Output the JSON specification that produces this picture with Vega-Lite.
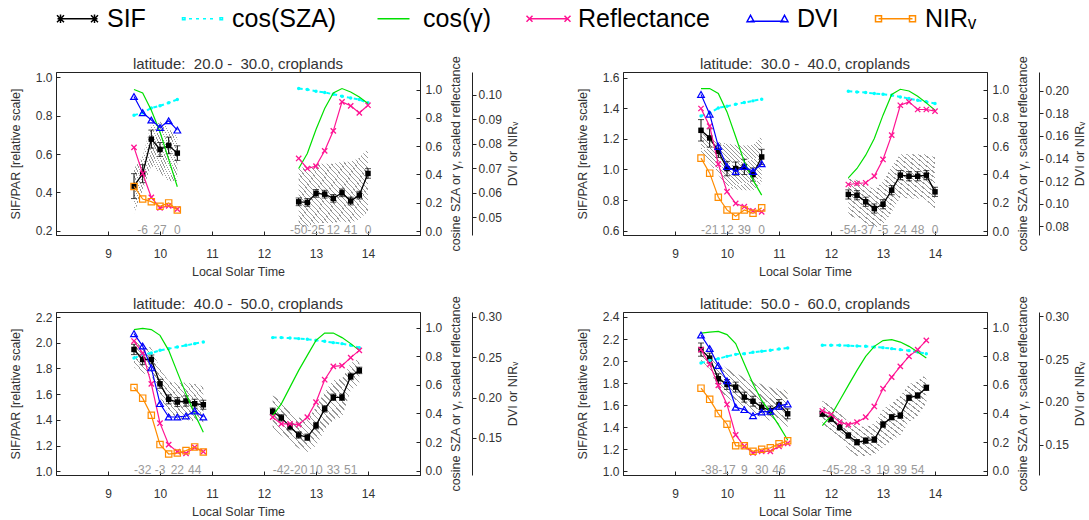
{
"$schema": "https://vega.github.io/schema/vega-lite/v6.json",
"padding": {"left": 8, "top": 6, "right": 0, "bottom": 0},
"background": "white",
"datasets": {"d": [
{"p":1,"i":"G","t":9.5,"s":0.433,"el":0.368,"eh":0.498,"lo":0.29,"hi":0.525,"r":0.591,"c":0.819,"g":1.0,"v":0.0993,"n":0.0626},
{"p":1,"i":"G","t":9.667,"s":0.498,"el":0.451,"eh":0.545,"lo":0.41,"hi":0.586,"r":0.407,"c":0.835,"g":0.976,"v":0.0927,"n":0.0575,"lab":"-6"},
{"p":1,"i":"G","t":9.833,"s":0.678,"el":0.631,"eh":0.725,"lo":0.54,"hi":0.76,"r":0.238,"c":0.87,"g":0.854,"v":0.0897,"n":0.0564},
{"p":1,"i":"G","t":10,"s":0.624,"el":0.588,"eh":0.66,"lo":0.5,"hi":0.77,"r":0.164,"c":0.885,"g":0.7,"v":0.0867,"n":0.0545,"lab":"27"},
{"p":1,"i":"G","t":10.167,"s":0.645,"el":0.602,"eh":0.688,"lo":0.46,"hi":0.734,"r":0.178,"c":0.906,"g":0.506,"v":0.0894,"n":0.0559},
{"p":1,"i":"G","t":10.333,"s":0.605,"el":0.567,"eh":0.643,"lo":0.456,"hi":0.69,"r":0.155,"c":0.93,"g":0.313,"v":0.0856,"n":0.053,"lab":"0"},
{"p":1,"i":"T","t":12.667,"s":0.351,"el":0.331,"eh":0.371,"lo":0.22,"hi":0.53,"r":0.513,"c":1.007,"g":0.442,"lab":"-50"},
{"p":1,"i":"T","t":12.833,"s":0.348,"el":0.328,"eh":0.368,"lo":0.22,"hi":0.53,"r":0.442,"c":1.0,"g":0.548},
{"p":1,"i":"T","t":13,"s":0.395,"el":0.375,"eh":0.415,"lo":0.24,"hi":0.55,"r":0.459,"c":0.988,"g":0.718,"lab":"-25"},
{"p":1,"i":"T","t":13.167,"s":0.391,"el":0.371,"eh":0.411,"lo":0.24,"hi":0.55,"r":0.567,"c":0.979,"g":0.866},
{"p":1,"i":"T","t":13.333,"s":0.369,"el":0.349,"eh":0.389,"lo":0.24,"hi":0.55,"r":0.708,"c":0.967,"g":0.976,"lab":"12"},
{"p":1,"i":"T","t":13.5,"s":0.398,"el":0.378,"eh":0.418,"lo":0.25,"hi":0.56,"r":0.913,"c":0.953,"g":1.007},
{"p":1,"i":"T","t":13.667,"s":0.355,"el":0.335,"eh":0.375,"lo":0.24,"hi":0.56,"r":0.885,"c":0.941,"g":0.983,"lab":"41"},
{"p":1,"i":"T","t":13.833,"s":0.386,"el":0.366,"eh":0.406,"lo":0.26,"hi":0.58,"r":0.835,"c":0.929,"g":0.948},
{"p":1,"i":"T","t":14,"s":0.499,"el":0.474,"eh":0.524,"lo":0.3,"hi":0.63,"r":0.889,"c":0.906,"g":0.901,"lab":"0"},
{"p":2,"i":"G","t":9.5,"s":1.256,"el":1.186,"eh":1.326,"lo":1.1,"hi":1.24,"r":0.866,"c":0.813,"g":1.007,"v":0.1968,"n":0.1404},
{"p":2,"i":"G","t":9.667,"s":1.206,"el":1.146,"eh":1.266,"lo":1.04,"hi":1.21,"r":0.741,"c":0.835,"g":1.007,"v":0.1793,"n":0.1271,"lab":"-21"},
{"p":2,"i":"G","t":9.833,"s":1.119,"el":1.079,"eh":1.159,"lo":0.965,"hi":1.18,"r":0.473,"c":0.87,"g":0.972,"v":0.1508,"n":0.1058},
{"p":2,"i":"G","t":10,"s":1.006,"el":0.959,"eh":1.053,"lo":0.88,"hi":1.17,"r":0.278,"c":0.882,"g":0.842,"v":0.133,"n":0.0946,"lab":"12"},
{"p":2,"i":"G","t":10.167,"s":1.006,"el":0.963,"eh":1.049,"lo":0.87,"hi":1.16,"r":0.195,"c":0.896,"g":0.666,"v":0.1286,"n":0.0889},
{"p":2,"i":"G","t":10.333,"s":1.017,"el":0.967,"eh":1.067,"lo":0.865,"hi":1.157,"r":0.172,"c":0.908,"g":0.489,"v":0.133,"n":0.0946,"lab":"39"},
{"p":2,"i":"G","t":10.5,"s":0.967,"el":0.924,"eh":1.01,"lo":0.865,"hi":1.16,"r":0.143,"c":0.92,"g":0.36,"v":0.1286,"n":0.0916},
{"p":2,"i":"G","t":10.667,"s":1.082,"el":1.032,"eh":1.132,"lo":0.91,"hi":1.22,"r":0.136,"c":0.932,"g":0.254,"v":0.1354,"n":0.0964,"lab":"0"},
{"p":2,"i":"T","t":12.333,"s":0.837,"el":0.807,"eh":0.867,"lo":0.7,"hi":0.95,"r":0.329,"c":0.988,"g":0.376,"lab":"-54"},
{"p":2,"i":"T","t":12.5,"s":0.832,"el":0.802,"eh":0.862,"lo":0.68,"hi":0.93,"r":0.336,"c":0.983,"g":0.442},
{"p":2,"i":"T","t":12.667,"s":0.789,"el":0.759,"eh":0.819,"lo":0.65,"hi":0.9,"r":0.341,"c":0.979,"g":0.536,"lab":"-37"},
{"p":2,"i":"T","t":12.833,"s":0.745,"el":0.715,"eh":0.775,"lo":0.62,"hi":0.87,"r":0.388,"c":0.972,"g":0.654},
{"p":2,"i":"T","t":13,"s":0.773,"el":0.743,"eh":0.803,"lo":0.64,"hi":0.92,"r":0.506,"c":0.967,"g":0.819,"lab":"-5"},
{"p":2,"i":"T","t":13.167,"s":0.865,"el":0.835,"eh":0.895,"lo":0.72,"hi":1.02,"r":0.678,"c":0.96,"g":0.965},
{"p":2,"i":"T","t":13.333,"s":0.963,"el":0.933,"eh":0.993,"lo":0.82,"hi":1.1,"r":0.889,"c":0.948,"g":1.002,"lab":"24"},
{"p":2,"i":"T","t":13.5,"s":0.956,"el":0.926,"eh":0.986,"lo":0.81,"hi":1.1,"r":0.913,"c":0.936,"g":0.99},
{"p":2,"i":"T","t":13.667,"s":0.956,"el":0.926,"eh":0.986,"lo":0.81,"hi":1.1,"r":0.859,"c":0.924,"g":0.953,"lab":"48"},
{"p":2,"i":"T","t":13.833,"s":0.963,"el":0.933,"eh":0.993,"lo":0.8,"hi":1.1,"r":0.859,"c":0.913,"g":0.906},
{"p":2,"i":"T","t":14,"s":0.854,"el":0.824,"eh":0.884,"lo":0.73,"hi":1.08,"r":0.847,"c":0.901,"g":0.854,"lab":"0"},
{"p":3,"i":"G","t":9.5,"s":1.948,"el":1.908,"eh":1.988,"lo":1.81,"hi":2.02,"r":0.906,"c":0.787,"g":0.986,"v":0.2792,"n":0.2125},
{"p":3,"i":"G","t":9.667,"s":1.87,"el":1.83,"eh":1.91,"lo":1.76,"hi":1.99,"r":0.822,"c":0.813,"g":0.995,"v":0.2638,"n":0.1992,"lab":"-32"},
{"p":3,"i":"G","t":9.833,"s":1.87,"el":1.835,"eh":1.905,"lo":1.75,"hi":1.96,"r":0.607,"c":0.822,"g":0.986,"v":0.2368,"n":0.178},
{"p":3,"i":"G","t":10,"s":1.681,"el":1.646,"eh":1.716,"lo":1.58,"hi":1.8,"r":0.332,"c":0.841,"g":0.946,"v":0.1925,"n":0.1417,"lab":"-3"},
{"p":3,"i":"G","t":10.167,"s":1.56,"el":1.525,"eh":1.595,"lo":1.44,"hi":1.7,"r":0.182,"c":0.853,"g":0.841,"v":0.1759,"n":0.13},
{"p":3,"i":"G","t":10.333,"s":1.539,"el":1.504,"eh":1.574,"lo":1.4,"hi":1.69,"r":0.133,"c":0.864,"g":0.689,"v":0.1759,"n":0.1312,"lab":"22"},
{"p":3,"i":"G","t":10.5,"s":1.547,"el":1.507,"eh":1.587,"lo":1.4,"hi":1.69,"r":0.121,"c":0.876,"g":0.537,"v":0.1771,"n":0.1342},
{"p":3,"i":"G","t":10.667,"s":1.526,"el":1.491,"eh":1.561,"lo":1.39,"hi":1.68,"r":0.163,"c":0.888,"g":0.397,"v":0.1834,"n":0.1388,"lab":"44"},
{"p":3,"i":"G","t":10.833,"s":1.518,"el":1.483,"eh":1.553,"lo":1.38,"hi":1.66,"r":0.133,"c":0.899,"g":0.268,"v":0.1759,"n":0.1325},
{"p":3,"i":"T","t":12.167,"s":1.467,"el":1.442,"eh":1.492,"lo":1.32,"hi":1.59,"r":0.374,"c":0.93,"g":0.385},
{"p":3,"i":"T","t":12.333,"s":1.416,"el":1.391,"eh":1.441,"lo":1.28,"hi":1.55,"r":0.327,"c":0.93,"g":0.467,"lab":"-42"},
{"p":3,"i":"T","t":12.5,"s":1.348,"el":1.323,"eh":1.373,"lo":1.23,"hi":1.48,"r":0.327,"c":0.927,"g":0.584},
{"p":3,"i":"T","t":12.667,"s":1.283,"el":1.258,"eh":1.308,"lo":1.18,"hi":1.42,"r":0.322,"c":0.923,"g":0.701,"lab":"-20"},
{"p":3,"i":"T","t":12.833,"s":1.265,"el":1.24,"eh":1.29,"lo":1.15,"hi":1.4,"r":0.374,"c":0.918,"g":0.806},
{"p":3,"i":"T","t":13,"s":1.356,"el":1.331,"eh":1.381,"lo":1.2,"hi":1.5,"r":0.479,"c":0.911,"g":0.911,"lab":"10"},
{"p":3,"i":"T","t":13.167,"s":1.486,"el":1.461,"eh":1.511,"lo":1.32,"hi":1.62,"r":0.636,"c":0.904,"g":0.962},
{"p":3,"i":"T","t":13.333,"s":1.576,"el":1.551,"eh":1.601,"lo":1.4,"hi":1.71,"r":0.729,"c":0.895,"g":0.962,"lab":"33"},
{"p":3,"i":"T","t":13.5,"s":1.576,"el":1.551,"eh":1.601,"lo":1.42,"hi":1.72,"r":0.734,"c":0.888,"g":0.93},
{"p":3,"i":"T","t":13.667,"s":1.738,"el":1.713,"eh":1.763,"lo":1.63,"hi":1.84,"r":0.79,"c":0.876,"g":0.888,"lab":"51"},
{"p":3,"i":"T","t":13.833,"s":1.785,"el":1.76,"eh":1.81,"lo":1.68,"hi":1.88,"r":0.841,"c":0.86,"g":0.841},
{"p":4,"i":"G","t":9.5,"s":2.104,"el":2.044,"eh":2.164,"lo":2.0,"hi":2.15,"r":0.846,"c":0.752,"g":0.962,"v":0.2782,"n":0.216},
{"p":4,"i":"G","t":9.667,"s":2.027,"el":1.982,"eh":2.072,"lo":1.93,"hi":2.07,"r":0.743,"c":0.771,"g":0.969,"v":0.2624,"n":0.2029,"lab":"-38"},
{"p":4,"i":"G","t":9.833,"s":1.84,"el":1.795,"eh":1.885,"lo":1.74,"hi":1.99,"r":0.596,"c":0.783,"g":0.974,"v":0.2425,"n":0.1862},
{"p":4,"i":"G","t":10,"s":1.788,"el":1.743,"eh":1.833,"lo":1.67,"hi":1.93,"r":0.463,"c":0.799,"g":0.951,"v":0.2246,"n":0.1738,"lab":"-17"},
{"p":4,"i":"G","t":10.167,"s":1.764,"el":1.719,"eh":1.809,"lo":1.62,"hi":1.89,"r":0.25,"c":0.813,"g":0.888,"v":0.1937,"n":0.1485},
{"p":4,"i":"G","t":10.333,"s":1.673,"el":1.628,"eh":1.718,"lo":1.57,"hi":1.85,"r":0.17,"c":0.818,"g":0.748,"v":0.1909,"n":0.1485,"lab":"9"},
{"p":4,"i":"G","t":10.5,"s":1.636,"el":1.591,"eh":1.681,"lo":1.52,"hi":1.82,"r":0.124,"c":0.827,"g":0.608,"v":0.1838,"n":0.1421},
{"p":4,"i":"G","t":10.667,"s":1.582,"el":1.542,"eh":1.622,"lo":1.49,"hi":1.79,"r":0.135,"c":0.834,"g":0.491,"v":0.1881,"n":0.1445,"lab":"30"},
{"p":4,"i":"G","t":10.833,"s":1.552,"el":1.512,"eh":1.592,"lo":1.46,"hi":1.76,"r":0.135,"c":0.841,"g":0.409,"v":0.1889,"n":0.1461},
{"p":4,"i":"G","t":11,"s":1.606,"el":1.561,"eh":1.651,"lo":1.43,"hi":1.75,"r":0.17,"c":0.85,"g":0.315,"v":0.1949,"n":0.1508,"lab":"46"},
{"p":4,"i":"G","t":11.167,"s":1.522,"el":1.477,"eh":1.567,"lo":1.4,"hi":1.73,"r":0.191,"c":0.857,"g":0.215,"v":0.1976,"n":0.1544},
{"p":4,"i":"T","t":11.833,"s":1.522,"el":1.497,"eh":1.547,"lo":1.4,"hi":1.64,"r":0.418,"c":0.876,"g":0.315},
{"p":4,"i":"T","t":12,"s":1.476,"el":1.451,"eh":1.501,"lo":1.36,"hi":1.6,"r":0.392,"c":0.876,"g":0.385,"lab":"-45"},
{"p":4,"i":"T","t":12.167,"s":1.4,"el":1.375,"eh":1.425,"lo":1.3,"hi":1.53,"r":0.339,"c":0.876,"g":0.491},
{"p":4,"i":"T","t":12.333,"s":1.325,"el":1.3,"eh":1.35,"lo":1.2,"hi":1.45,"r":0.322,"c":0.874,"g":0.596,"lab":"-28"},
{"p":4,"i":"T","t":12.5,"s":1.264,"el":1.239,"eh":1.289,"lo":1.14,"hi":1.4,"r":0.339,"c":0.871,"g":0.701},
{"p":4,"i":"T","t":12.667,"s":1.279,"el":1.254,"eh":1.304,"lo":1.14,"hi":1.41,"r":0.374,"c":0.869,"g":0.799,"lab":"-3"},
{"p":4,"i":"T","t":12.833,"s":1.288,"el":1.263,"eh":1.313,"lo":1.15,"hi":1.43,"r":0.449,"c":0.865,"g":0.869},
{"p":4,"i":"T","t":13,"s":1.425,"el":1.4,"eh":1.45,"lo":1.22,"hi":1.56,"r":0.573,"c":0.86,"g":0.909,"lab":"19"},
{"p":4,"i":"T","t":13.167,"s":1.491,"el":1.466,"eh":1.516,"lo":1.28,"hi":1.62,"r":0.654,"c":0.853,"g":0.916},
{"p":4,"i":"T","t":13.333,"s":1.506,"el":1.481,"eh":1.531,"lo":1.33,"hi":1.68,"r":0.729,"c":0.846,"g":0.899,"lab":"39"},
{"p":4,"i":"T","t":13.5,"s":1.667,"el":1.642,"eh":1.692,"lo":1.45,"hi":1.79,"r":0.799,"c":0.839,"g":0.869},
{"p":4,"i":"T","t":13.667,"s":1.688,"el":1.663,"eh":1.713,"lo":1.5,"hi":1.82,"r":0.846,"c":0.829,"g":0.829,"lab":"54"},
{"p":4,"i":"T","t":13.833,"s":1.758,"el":1.733,"eh":1.783,"lo":1.62,"hi":1.88,"r":0.911,"c":0.818,"g":0.787}
]},
"columns": 2,
"spacing": {"row": 77, "column": 203},
"bounds": "flush",
"concat": [
{
"title": {"text": "latitude:\u00a0 20.0 -\u00a0 30.0, croplands"},
"width": 364, "height": 163,
"data": {"name": "d"},
"transform": [{"filter": "datum.p == 1"}],
"encoding": {"x": {"field": "t", "type": "quantitative", "scale": {"domain": [8, 15]}, "axis": {"values": [9,10,11,12,13,14], "format": "d", "title": "Local Solar Time", "tickSize": -4, "labelPadding": 17, "titlePadding": 6}}},
"resolve": {"scale": {"y": "independent"}},
"layer": [
{"mark": {"type": "area"}, "encoding": {"y": {"field": "lo", "type": "quantitative", "scale": {"domain": [0.178, 1.028]}, "axis": {"values": [0.2,0.4,0.6,0.8,1.0], "format": ".1f", "title": "SIF/PAR [relative scale]", "tickSize": -4, "labelPadding": 8, "titlePadding": 13}}, "y2": {"field": "hi"}, "detail": {"field": "i"}}},
{"mark": {"type": "rule", "color": "#000"}, "encoding": {"y": {"field": "el", "type": "quantitative", "scale": {"domain": [0.178, 1.028]}, "axis": null}, "y2": {"field": "eh"}}},
{"mark": {"type": "tick", "orient": "horizontal", "size": 6, "thickness": 1, "color": "#000"}, "encoding": {"y": {"field": "el", "type": "quantitative", "scale": {"domain": [0.178, 1.028]}, "axis": null}}},
{"mark": {"type": "tick", "orient": "horizontal", "size": 6, "thickness": 1, "color": "#000"}, "encoding": {"y": {"field": "eh", "type": "quantitative", "scale": {"domain": [0.178, 1.028]}, "axis": null}}},
{"mark": {"type": "line", "color": "#000", "strokeWidth": 1.3, "point": {"shape": "square", "filled": true, "size": 30, "color": "#000"}}, "encoding": {"y": {"field": "s", "type": "quantitative", "scale": {"domain": [0.178, 1.028]}, "axis": null}, "detail": {"field": "i"}}},
{"mark": {"type": "line", "color": "#00ffff", "strokeWidth": 2, "strokeDash": [4, 3], "point": {"filled": true, "size": 12, "color": "#00ffff"}}, "encoding": {"y": {"field": "c", "type": "quantitative", "scale": {"domain": [-0.028, 1.124]}, "axis": {"orient": "right", "values": [0,0.2,0.4,0.6,0.8,1.0], "format": ".1f", "title": "cosine SZA or γ, scaled reflectance", "tickSize": -4, "labelPadding": 9, "titlePadding": 8, "titleAngle": 270, "titleBaseline": "top"}}, "detail": {"field": "i"}}},
{"mark": {"type": "line", "color": "#00e000", "strokeWidth": 1.2}, "encoding": {"y": {"field": "g", "type": "quantitative", "scale": {"domain": [-0.028, 1.124]}, "axis": null}, "detail": {"field": "i"}}},
{"mark": {"type": "line", "color": "#ff1493", "strokeWidth": 1.2, "point": {"shape": "M-1,-1L1,1M-1,1L1,-1", "filled": false, "size": 28, "strokeWidth": 1.3, "color": "#ff1493"}}, "encoding": {"y": {"field": "r", "type": "quantitative", "scale": {"domain": [-0.028, 1.124]}, "axis": null}, "detail": {"field": "i"}}},
{"mark": {"type": "line", "color": "#0000ff", "strokeWidth": 1.2, "point": {"shape": "triangle-up", "filled": false, "size": 45, "strokeWidth": 1.2, "color": "#0000ff"}}, "encoding": {"y": {"field": "v", "type": "quantitative", "scale": {"domain": [0.0428, 0.1093]}, "axis": {"orient": "right", "offset": 52, "values": [0.05,0.06,0.07,0.08,0.09,0.10], "format": ".2f", "title": "DVI or NIRᵥ", "tickSize": 4, "labelPadding": 2, "titlePadding": 5, "titleAngle": 270, "titleBaseline": "top"}}}},
{"mark": {"type": "line", "color": "#ff8c00", "strokeWidth": 1.2, "point": {"shape": "square", "filled": false, "size": 40, "strokeWidth": 1.2, "color": "#ff8c00"}}, "encoding": {"y": {"field": "n", "type": "quantitative", "scale": {"domain": [0.0428, 0.1093]}, "axis": null}}},
{"transform": [{"filter": "datum.lab != null"}], "mark": {"type": "text", "color": "#999", "fontSize": 12, "baseline": "alphabetic", "dy": -1}, "encoding": {"text": {"field": "lab"}, "y": {"datum": -0.028, "scale": {"domain": [-0.028, 1.124]}, "axis": null}}},
{"data": {"values": [{"p": 1}]}, "mark": {"type": "text", "text": "GOME-2", "align": "left", "baseline": "middle", "fontSize": 12.5, "color": "#222"}, "encoding": {"x": {"datum": 8.09, "type": "quantitative", "scale": {"domain": [8, 15]}, "axis": {"values": [9,10,11,12,13,14], "format": "d", "title": "Local Solar Time", "tickSize": -4, "labelPadding": 17, "titlePadding": 6}}, "y": {"datum": 1.054, "scale": {"domain": [-0.028, 1.124]}, "axis": null}}},
{"data": {"values": [{"p": 1}]}, "mark": {"type": "text", "text": "× r = -0.90", "align": "left", "baseline": "middle", "fontSize": 12, "color": "#ff1493"}, "encoding": {"x": {"datum": 8.09, "type": "quantitative", "scale": {"domain": [8, 15]}, "axis": {"values": [9,10,11,12,13,14], "format": "d", "title": "Local Solar Time", "tickSize": -4, "labelPadding": 17, "titlePadding": 6}}, "y": {"datum": 0.96, "scale": {"domain": [-0.028, 1.124]}, "axis": null}}},
{"data": {"values": [{"p": 1}]}, "mark": {"type": "text", "text": "△ r = -0.80", "align": "left", "baseline": "middle", "fontSize": 12, "color": "#0000ff"}, "encoding": {"x": {"datum": 8.09, "type": "quantitative", "scale": {"domain": [8, 15]}, "axis": {"values": [9,10,11,12,13,14], "format": "d", "title": "Local Solar Time", "tickSize": -4, "labelPadding": 17, "titlePadding": 6}}, "y": {"datum": 0.861, "scale": {"domain": [-0.028, 1.124]}, "axis": null}}},
{"data": {"values": [{"p": 1}]}, "mark": {"type": "text", "text": "□ r = -0.75", "align": "left", "baseline": "middle", "fontSize": 12, "color": "#ff8c00"}, "encoding": {"x": {"datum": 8.09, "type": "quantitative", "scale": {"domain": [8, 15]}, "axis": {"values": [9,10,11,12,13,14], "format": "d", "title": "Local Solar Time", "tickSize": -4, "labelPadding": 17, "titlePadding": 6}}, "y": {"datum": 0.771, "scale": {"domain": [-0.028, 1.124]}, "axis": null}}},
{"data": {"values": [{"p": 1}]}, "mark": {"type": "text", "text": "TROPOMI", "align": "right", "baseline": "middle", "fontSize": 12.5, "color": "#222"}, "encoding": {"x": {"datum": 14.91, "type": "quantitative", "scale": {"domain": [8, 15]}, "axis": {"values": [9,10,11,12,13,14], "format": "d", "title": "Local Solar Time", "tickSize": -4, "labelPadding": 17, "titlePadding": 6}}, "y": {"datum": 1.061, "scale": {"domain": [-0.028, 1.124]}, "axis": null}}},
{"data": {"values": [{"p": 1}]}, "mark": {"type": "text", "text": "× r = \u00a00.44", "align": "right", "baseline": "middle", "fontSize": 12, "color": "#ff1493"}, "encoding": {"x": {"datum": 14.955, "type": "quantitative", "scale": {"domain": [8, 15]}, "axis": {"values": [9,10,11,12,13,14], "format": "d", "title": "Local Solar Time", "tickSize": -4, "labelPadding": 17, "titlePadding": 6}}, "y": {"datum": 0.96, "scale": {"domain": [-0.028, 1.124]}, "axis": null}}},
{"data": {"values": [{"p":1,"ser":"SIF"},{"p":1,"ser":"cos(SZA)"},{"p":1,"ser":"cos(γ)"},{"p":1,"ser":"Reflectance"},{"p":1,"ser":"DVI"},{"p":1,"ser":"NIRᵥ"}]},
 "mark": {"type": "point", "opacity": 0, "filled": false},
 "encoding": {
  "x": {"datum": 8.5, "type": "quantitative", "scale": {"domain": [8, 15]}, "axis": {"values": [9,10,11,12,13,14], "format": "d", "title": "Local Solar Time", "tickSize": -4, "labelPadding": 17, "titlePadding": 6}},
  "y": {"datum": 0.5, "scale": {"domain": [-0.028, 1.124]}, "axis": null},
  "color": {"field": "ser", "type": "nominal", "scale": {"domain": ["SIF","cos(SZA)","cos(γ)","Reflectance","DVI","NIRᵥ"], "range": ["#000000","#00ffff","#00e000","#ff1493","#0000ff","#ff8c00"]},
   "legend": {"orient": "none", "legendX": -11, "legendY": -66, "direction": "horizontal", "columns": 6, "title": null, "labelFontSize": 25, "labelFont": "Liberation Sans", "symbolSize": 400, "symbolStrokeWidth": 1.5, "symbolOffset": 20, "labelOffset": 17, "columnPadding": 24, "symbolOpacity": 1, "labelLimit": 300,
    "encode": {"labels": {"update": {"fill": {"signal": "datum.value == 'SIF' ? '#000000' : datum.value == 'cos(SZA)' ? '#00ffff' : datum.value == 'cos(γ)' ? '#00e000' : datum.value == 'Reflectance' ? '#ff1493' : datum.value == 'DVI' ? '#0000ff' : '#ff8c00'"}}}}}},
  "shape": {"field": "ser", "type": "nominal", "scale": {"domain": ["SIF","cos(SZA)","cos(γ)","Reflectance","DVI","NIRᵥ"], "range": [
   "M-2,0L2,0M-2.05,-0.35L-1.35,0.35M-2.05,0.35L-1.35,-0.35M-1.7,-0.42L-1.7,0.42M1.35,-0.35L2.05,0.35M1.35,0.35L2.05,-0.35M1.7,-0.42L1.7,0.42",
   "M-2,-0.1L-1.75,-0.1L-1.75,0.1L-2,0.1ZM-1.35,0L-1.05,0M-0.65,0L-0.35,0M0.05,0L0.35,0M0.75,0L1.05,0M1.75,-0.1L2,-0.1L2,0.1L1.75,0.1Z",
   "M-1.6,0L1.6,0",
   "M-2,0L2,0M-2.2,-0.3L-1.6,0.3M-2.2,0.3L-1.6,-0.3M1.6,-0.3L2.2,0.3M1.6,0.3L2.2,-0.3",
   "M-1.7,0.25L1.7,0.25M-2.05,0.3L-1.7,-0.35L-1.35,0.3ZM1.35,0.3L1.7,-0.35L2.05,0.3Z",
   "M-1.7,0L1.7,0M-2,-0.3L-1.4,-0.3L-1.4,0.3L-2,0.3ZM1.4,-0.3L2,-0.3L2,0.3L1.4,0.3Z"]}}
 }}
]
},
{
"title": {"text": "latitude:\u00a0 30.0 -\u00a0 40.0, croplands"},
"width": 364, "height": 163,
"data": {"name": "d"},
"transform": [{"filter": "datum.p == 2"}],
"encoding": {"x": {"field": "t", "type": "quantitative", "scale": {"domain": [8, 15]}, "axis": {"values": [9,10,11,12,13,14], "format": "d", "title": "Local Solar Time", "tickSize": -4, "labelPadding": 17, "titlePadding": 6}}},
"resolve": {"scale": {"y": "independent"}},
"layer": [
{"mark": {"type": "area"}, "encoding": {"y": {"field": "lo", "type": "quantitative", "scale": {"domain": [0.572, 1.637]}, "axis": {"values": [0.6,0.8,1.0,1.2,1.4,1.6], "format": ".1f", "title": "SIF/PAR [relative scale]", "tickSize": -4, "labelPadding": 8, "titlePadding": 13}}, "y2": {"field": "hi"}, "detail": {"field": "i"}}},
{"mark": {"type": "rule", "color": "#000"}, "encoding": {"y": {"field": "el", "type": "quantitative", "scale": {"domain": [0.572, 1.637]}, "axis": null}, "y2": {"field": "eh"}}},
{"mark": {"type": "tick", "orient": "horizontal", "size": 6, "thickness": 1, "color": "#000"}, "encoding": {"y": {"field": "el", "type": "quantitative", "scale": {"domain": [0.572, 1.637]}, "axis": null}}},
{"mark": {"type": "tick", "orient": "horizontal", "size": 6, "thickness": 1, "color": "#000"}, "encoding": {"y": {"field": "eh", "type": "quantitative", "scale": {"domain": [0.572, 1.637]}, "axis": null}}},
{"mark": {"type": "line", "color": "#000", "strokeWidth": 1.3, "point": {"shape": "square", "filled": true, "size": 30, "color": "#000"}}, "encoding": {"y": {"field": "s", "type": "quantitative", "scale": {"domain": [0.572, 1.637]}, "axis": null}, "detail": {"field": "i"}}},
{"mark": {"type": "line", "color": "#00ffff", "strokeWidth": 2, "strokeDash": [4, 3], "point": {"filled": true, "size": 12, "color": "#00ffff"}}, "encoding": {"y": {"field": "c", "type": "quantitative", "scale": {"domain": [-0.028, 1.124]}, "axis": {"orient": "right", "values": [0,0.2,0.4,0.6,0.8,1.0], "format": ".1f", "title": "cosine SZA or γ, scaled reflectance", "tickSize": -4, "labelPadding": 9, "titlePadding": 8, "titleAngle": 270, "titleBaseline": "top"}}, "detail": {"field": "i"}}},
{"mark": {"type": "line", "color": "#00e000", "strokeWidth": 1.2}, "encoding": {"y": {"field": "g", "type": "quantitative", "scale": {"domain": [-0.028, 1.124]}, "axis": null}, "detail": {"field": "i"}}},
{"mark": {"type": "line", "color": "#ff1493", "strokeWidth": 1.2, "point": {"shape": "M-1,-1L1,1M-1,1L1,-1", "filled": false, "size": 28, "strokeWidth": 1.3, "color": "#ff1493"}}, "encoding": {"y": {"field": "r", "type": "quantitative", "scale": {"domain": [-0.028, 1.124]}, "axis": null}, "detail": {"field": "i"}}},
{"mark": {"type": "line", "color": "#0000ff", "strokeWidth": 1.2, "point": {"shape": "triangle-up", "filled": false, "size": 45, "strokeWidth": 1.2, "color": "#0000ff"}}, "encoding": {"y": {"field": "v", "type": "quantitative", "scale": {"domain": [0.0724, 0.2166]}, "axis": {"orient": "right", "offset": 52, "values": [0.08,0.10,0.12,0.14,0.16,0.18,0.20], "format": ".2f", "title": "DVI or NIRᵥ", "tickSize": 4, "labelPadding": 2, "titlePadding": 5, "titleAngle": 270, "titleBaseline": "top"}}}},
{"mark": {"type": "line", "color": "#ff8c00", "strokeWidth": 1.2, "point": {"shape": "square", "filled": false, "size": 40, "strokeWidth": 1.2, "color": "#ff8c00"}}, "encoding": {"y": {"field": "n", "type": "quantitative", "scale": {"domain": [0.0724, 0.2166]}, "axis": null}}},
{"transform": [{"filter": "datum.lab != null"}], "mark": {"type": "text", "color": "#999", "fontSize": 12, "baseline": "alphabetic", "dy": -1}, "encoding": {"text": {"field": "lab"}, "y": {"datum": -0.028, "scale": {"domain": [-0.028, 1.124]}, "axis": null}}},
{"data": {"values": [{"p": 2}]}, "mark": {"type": "text", "text": "GOME-2", "align": "left", "baseline": "middle", "fontSize": 12.5, "color": "#222"}, "encoding": {"x": {"datum": 8.09, "type": "quantitative", "scale": {"domain": [8, 15]}, "axis": {"values": [9,10,11,12,13,14], "format": "d", "title": "Local Solar Time", "tickSize": -4, "labelPadding": 17, "titlePadding": 6}}, "y": {"datum": 1.054, "scale": {"domain": [-0.028, 1.124]}, "axis": null}}},
{"data": {"values": [{"p": 2}]}, "mark": {"type": "text", "text": "× r = \u00a00.94", "align": "left", "baseline": "middle", "fontSize": 12, "color": "#ff1493"}, "encoding": {"x": {"datum": 8.09, "type": "quantitative", "scale": {"domain": [8, 15]}, "axis": {"values": [9,10,11,12,13,14], "format": "d", "title": "Local Solar Time", "tickSize": -4, "labelPadding": 17, "titlePadding": 6}}, "y": {"datum": 0.96, "scale": {"domain": [-0.028, 1.124]}, "axis": null}}},
{"data": {"values": [{"p": 2}]}, "mark": {"type": "text", "text": "△ r = \u00a00.96", "align": "left", "baseline": "middle", "fontSize": 12, "color": "#0000ff"}, "encoding": {"x": {"datum": 8.09, "type": "quantitative", "scale": {"domain": [8, 15]}, "axis": {"values": [9,10,11,12,13,14], "format": "d", "title": "Local Solar Time", "tickSize": -4, "labelPadding": 17, "titlePadding": 6}}, "y": {"datum": 0.861, "scale": {"domain": [-0.028, 1.124]}, "axis": null}}},
{"data": {"values": [{"p": 2}]}, "mark": {"type": "text", "text": "□ r = \u00a00.96", "align": "left", "baseline": "middle", "fontSize": 12, "color": "#ff8c00"}, "encoding": {"x": {"datum": 8.09, "type": "quantitative", "scale": {"domain": [8, 15]}, "axis": {"values": [9,10,11,12,13,14], "format": "d", "title": "Local Solar Time", "tickSize": -4, "labelPadding": 17, "titlePadding": 6}}, "y": {"datum": 0.771, "scale": {"domain": [-0.028, 1.124]}, "axis": null}}},
{"data": {"values": [{"p": 2}]}, "mark": {"type": "text", "text": "TROPOMI", "align": "right", "baseline": "middle", "fontSize": 12.5, "color": "#222"}, "encoding": {"x": {"datum": 14.91, "type": "quantitative", "scale": {"domain": [8, 15]}, "axis": {"values": [9,10,11,12,13,14], "format": "d", "title": "Local Solar Time", "tickSize": -4, "labelPadding": 17, "titlePadding": 6}}, "y": {"datum": 1.061, "scale": {"domain": [-0.028, 1.124]}, "axis": null}}},
{"data": {"values": [{"p": 2}]}, "mark": {"type": "text", "text": "× r = \u00a00.85", "align": "right", "baseline": "middle", "fontSize": 12, "color": "#ff1493"}, "encoding": {"x": {"datum": 14.955, "type": "quantitative", "scale": {"domain": [8, 15]}, "axis": {"values": [9,10,11,12,13,14], "format": "d", "title": "Local Solar Time", "tickSize": -4, "labelPadding": 17, "titlePadding": 6}}, "y": {"datum": 0.96, "scale": {"domain": [-0.028, 1.124]}, "axis": null}}}
]
},
{
"title": {"text": "latitude:\u00a0 40.0 -\u00a0 50.0, croplands"},
"width": 364, "height": 163,
"data": {"name": "d"},
"transform": [{"filter": "datum.p == 3"}],
"encoding": {"x": {"field": "t", "type": "quantitative", "scale": {"domain": [8, 15]}, "axis": {"values": [9,10,11,12,13,14], "format": "d", "title": "Local Solar Time", "tickSize": -4, "labelPadding": 17, "titlePadding": 6}}},
"resolve": {"scale": {"y": "independent"}},
"layer": [
{"mark": {"type": "area"}, "encoding": {"y": {"field": "lo", "type": "quantitative", "scale": {"domain": [0.972, 2.239]}, "axis": {"values": [1.0,1.2,1.4,1.6,1.8,2.0,2.2], "format": ".1f", "title": "SIF/PAR [relative scale]", "tickSize": -4, "labelPadding": 8, "titlePadding": 13}}, "y2": {"field": "hi"}, "detail": {"field": "i"}}},
{"mark": {"type": "rule", "color": "#000"}, "encoding": {"y": {"field": "el", "type": "quantitative", "scale": {"domain": [0.972, 2.239]}, "axis": null}, "y2": {"field": "eh"}}},
{"mark": {"type": "tick", "orient": "horizontal", "size": 6, "thickness": 1, "color": "#000"}, "encoding": {"y": {"field": "el", "type": "quantitative", "scale": {"domain": [0.972, 2.239]}, "axis": null}}},
{"mark": {"type": "tick", "orient": "horizontal", "size": 6, "thickness": 1, "color": "#000"}, "encoding": {"y": {"field": "eh", "type": "quantitative", "scale": {"domain": [0.972, 2.239]}, "axis": null}}},
{"mark": {"type": "line", "color": "#000", "strokeWidth": 1.3, "point": {"shape": "square", "filled": true, "size": 30, "color": "#000"}}, "encoding": {"y": {"field": "s", "type": "quantitative", "scale": {"domain": [0.972, 2.239]}, "axis": null}, "detail": {"field": "i"}}},
{"mark": {"type": "line", "color": "#00ffff", "strokeWidth": 2, "strokeDash": [4, 3], "point": {"filled": true, "size": 12, "color": "#00ffff"}}, "encoding": {"y": {"field": "c", "type": "quantitative", "scale": {"domain": [-0.03, 1.109]}, "axis": {"orient": "right", "values": [0,0.2,0.4,0.6,0.8,1.0], "format": ".1f", "title": "cosine SZA or γ, scaled reflectance", "tickSize": -4, "labelPadding": 9, "titlePadding": 8, "titleAngle": 270, "titleBaseline": "top"}}, "detail": {"field": "i"}}},
{"mark": {"type": "line", "color": "#00e000", "strokeWidth": 1.2}, "encoding": {"y": {"field": "g", "type": "quantitative", "scale": {"domain": [-0.03, 1.109]}, "axis": null}, "detail": {"field": "i"}}},
{"mark": {"type": "line", "color": "#ff1493", "strokeWidth": 1.2, "point": {"shape": "M-1,-1L1,1M-1,1L1,-1", "filled": false, "size": 28, "strokeWidth": 1.3, "color": "#ff1493"}}, "encoding": {"y": {"field": "r", "type": "quantitative", "scale": {"domain": [-0.03, 1.109]}, "axis": null}, "detail": {"field": "i"}}},
{"mark": {"type": "line", "color": "#0000ff", "strokeWidth": 1.2, "point": {"shape": "triangle-up", "filled": false, "size": 45, "strokeWidth": 1.2, "color": "#0000ff"}}, "encoding": {"y": {"field": "v", "type": "quantitative", "scale": {"domain": [0.104, 0.306]}, "axis": {"orient": "right", "offset": 52, "values": [0.15,0.20,0.25,0.30], "format": ".2f", "title": "DVI or NIRᵥ", "tickSize": 4, "labelPadding": 2, "titlePadding": 5, "titleAngle": 270, "titleBaseline": "top"}}}},
{"mark": {"type": "line", "color": "#ff8c00", "strokeWidth": 1.2, "point": {"shape": "square", "filled": false, "size": 40, "strokeWidth": 1.2, "color": "#ff8c00"}}, "encoding": {"y": {"field": "n", "type": "quantitative", "scale": {"domain": [0.104, 0.306]}, "axis": null}}},
{"transform": [{"filter": "datum.lab != null"}], "mark": {"type": "text", "color": "#999", "fontSize": 12, "baseline": "alphabetic", "dy": -1}, "encoding": {"text": {"field": "lab"}, "y": {"datum": -0.03, "scale": {"domain": [-0.03, 1.109]}, "axis": null}}},
{"data": {"values": [{"p": 3}]}, "mark": {"type": "text", "text": "GOME-2", "align": "left", "baseline": "middle", "fontSize": 12.5, "color": "#222"}, "encoding": {"x": {"datum": 8.09, "type": "quantitative", "scale": {"domain": [8, 15]}, "axis": {"values": [9,10,11,12,13,14], "format": "d", "title": "Local Solar Time", "tickSize": -4, "labelPadding": 17, "titlePadding": 6}}, "y": {"datum": 1.039, "scale": {"domain": [-0.03, 1.109]}, "axis": null}}},
{"data": {"values": [{"p": 3}]}, "mark": {"type": "text", "text": "× r = \u00a00.98", "align": "left", "baseline": "middle", "fontSize": 12, "color": "#ff1493"}, "encoding": {"x": {"datum": 8.09, "type": "quantitative", "scale": {"domain": [8, 15]}, "axis": {"values": [9,10,11,12,13,14], "format": "d", "title": "Local Solar Time", "tickSize": -4, "labelPadding": 17, "titlePadding": 6}}, "y": {"datum": 0.946, "scale": {"domain": [-0.03, 1.109]}, "axis": null}}},
{"data": {"values": [{"p": 3}]}, "mark": {"type": "text", "text": "△ r = \u00a00.97", "align": "left", "baseline": "middle", "fontSize": 12, "color": "#0000ff"}, "encoding": {"x": {"datum": 8.09, "type": "quantitative", "scale": {"domain": [8, 15]}, "axis": {"values": [9,10,11,12,13,14], "format": "d", "title": "Local Solar Time", "tickSize": -4, "labelPadding": 17, "titlePadding": 6}}, "y": {"datum": 0.848, "scale": {"domain": [-0.03, 1.109]}, "axis": null}}},
{"data": {"values": [{"p": 3}]}, "mark": {"type": "text", "text": "□ r = \u00a00.96", "align": "left", "baseline": "middle", "fontSize": 12, "color": "#ff8c00"}, "encoding": {"x": {"datum": 8.09, "type": "quantitative", "scale": {"domain": [8, 15]}, "axis": {"values": [9,10,11,12,13,14], "format": "d", "title": "Local Solar Time", "tickSize": -4, "labelPadding": 17, "titlePadding": 6}}, "y": {"datum": 0.759, "scale": {"domain": [-0.03, 1.109]}, "axis": null}}},
{"data": {"values": [{"p": 3}]}, "mark": {"type": "text", "text": "TROPOMI", "align": "right", "baseline": "middle", "fontSize": 12.5, "color": "#222"}, "encoding": {"x": {"datum": 14.91, "type": "quantitative", "scale": {"domain": [8, 15]}, "axis": {"values": [9,10,11,12,13,14], "format": "d", "title": "Local Solar Time", "tickSize": -4, "labelPadding": 17, "titlePadding": 6}}, "y": {"datum": 1.051, "scale": {"domain": [-0.03, 1.109]}, "axis": null}}},
{"data": {"values": [{"p": 3}]}, "mark": {"type": "text", "text": "× r = \u00a00.89", "align": "right", "baseline": "middle", "fontSize": 12, "color": "#ff1493"}, "encoding": {"x": {"datum": 14.955, "type": "quantitative", "scale": {"domain": [8, 15]}, "axis": {"values": [9,10,11,12,13,14], "format": "d", "title": "Local Solar Time", "tickSize": -4, "labelPadding": 17, "titlePadding": 6}}, "y": {"datum": 0.946, "scale": {"domain": [-0.03, 1.109]}, "axis": null}}}
]
},
{
"title": {"text": "latitude:\u00a0 50.0 -\u00a0 60.0, croplands"},
"width": 364, "height": 163,
"data": {"name": "d"},
"transform": [{"filter": "datum.p == 4"}],
"encoding": {"x": {"field": "t", "type": "quantitative", "scale": {"domain": [8, 15]}, "axis": {"values": [9,10,11,12,13,14], "format": "d", "title": "Local Solar Time", "tickSize": -4, "labelPadding": 17, "titlePadding": 6}}},
"resolve": {"scale": {"y": "independent"}},
"layer": [
{"mark": {"type": "area"}, "encoding": {"y": {"field": "lo", "type": "quantitative", "scale": {"domain": [0.967, 2.445]}, "axis": {"values": [1.0,1.2,1.4,1.6,1.8,2.0,2.2,2.4], "format": ".1f", "title": "SIF/PAR [relative scale]", "tickSize": -4, "labelPadding": 8, "titlePadding": 13}}, "y2": {"field": "hi"}, "detail": {"field": "i"}}},
{"mark": {"type": "rule", "color": "#000"}, "encoding": {"y": {"field": "el", "type": "quantitative", "scale": {"domain": [0.967, 2.445]}, "axis": null}, "y2": {"field": "eh"}}},
{"mark": {"type": "tick", "orient": "horizontal", "size": 6, "thickness": 1, "color": "#000"}, "encoding": {"y": {"field": "el", "type": "quantitative", "scale": {"domain": [0.967, 2.445]}, "axis": null}}},
{"mark": {"type": "tick", "orient": "horizontal", "size": 6, "thickness": 1, "color": "#000"}, "encoding": {"y": {"field": "eh", "type": "quantitative", "scale": {"domain": [0.967, 2.445]}, "axis": null}}},
{"mark": {"type": "line", "color": "#000", "strokeWidth": 1.3, "point": {"shape": "square", "filled": true, "size": 30, "color": "#000"}}, "encoding": {"y": {"field": "s", "type": "quantitative", "scale": {"domain": [0.967, 2.445]}, "axis": null}, "detail": {"field": "i"}}},
{"mark": {"type": "line", "color": "#00ffff", "strokeWidth": 2, "strokeDash": [4, 3], "point": {"filled": true, "size": 12, "color": "#00ffff"}}, "encoding": {"y": {"field": "c", "type": "quantitative", "scale": {"domain": [-0.03, 1.109]}, "axis": {"orient": "right", "values": [0,0.2,0.4,0.6,0.8,1.0], "format": ".1f", "title": "cosine SZA or γ, scaled reflectance", "tickSize": -4, "labelPadding": 9, "titlePadding": 8, "titleAngle": 270, "titleBaseline": "top"}}, "detail": {"field": "i"}}},
{"mark": {"type": "line", "color": "#00e000", "strokeWidth": 1.2}, "encoding": {"y": {"field": "g", "type": "quantitative", "scale": {"domain": [-0.03, 1.109]}, "axis": null}, "detail": {"field": "i"}}},
{"mark": {"type": "line", "color": "#ff1493", "strokeWidth": 1.2, "point": {"shape": "M-1,-1L1,1M-1,1L1,-1", "filled": false, "size": 28, "strokeWidth": 1.3, "color": "#ff1493"}}, "encoding": {"y": {"field": "r", "type": "quantitative", "scale": {"domain": [-0.03, 1.109]}, "axis": null}, "detail": {"field": "i"}}},
{"mark": {"type": "line", "color": "#0000ff", "strokeWidth": 1.2, "point": {"shape": "triangle-up", "filled": false, "size": 45, "strokeWidth": 1.2, "color": "#0000ff"}}, "encoding": {"y": {"field": "v", "type": "quantitative", "scale": {"domain": [0.1143, 0.3052]}, "axis": {"orient": "right", "offset": 52, "values": [0.15,0.20,0.25,0.30], "format": ".2f", "title": "DVI or NIRᵥ", "tickSize": 4, "labelPadding": 2, "titlePadding": 5, "titleAngle": 270, "titleBaseline": "top"}}}},
{"mark": {"type": "line", "color": "#ff8c00", "strokeWidth": 1.2, "point": {"shape": "square", "filled": false, "size": 40, "strokeWidth": 1.2, "color": "#ff8c00"}}, "encoding": {"y": {"field": "n", "type": "quantitative", "scale": {"domain": [0.1143, 0.3052]}, "axis": null}}},
{"transform": [{"filter": "datum.lab != null"}], "mark": {"type": "text", "color": "#999", "fontSize": 12, "baseline": "alphabetic", "dy": -1}, "encoding": {"text": {"field": "lab"}, "y": {"datum": -0.03, "scale": {"domain": [-0.03, 1.109]}, "axis": null}}},
{"data": {"values": [{"p": 4}]}, "mark": {"type": "text", "text": "GOME-2", "align": "left", "baseline": "middle", "fontSize": 12.5, "color": "#222"}, "encoding": {"x": {"datum": 8.09, "type": "quantitative", "scale": {"domain": [8, 15]}, "axis": {"values": [9,10,11,12,13,14], "format": "d", "title": "Local Solar Time", "tickSize": -4, "labelPadding": 17, "titlePadding": 6}}, "y": {"datum": 1.039, "scale": {"domain": [-0.03, 1.109]}, "axis": null}}},
{"data": {"values": [{"p": 4}]}, "mark": {"type": "text", "text": "× r = \u00a00.95", "align": "left", "baseline": "middle", "fontSize": 12, "color": "#ff1493"}, "encoding": {"x": {"datum": 8.09, "type": "quantitative", "scale": {"domain": [8, 15]}, "axis": {"values": [9,10,11,12,13,14], "format": "d", "title": "Local Solar Time", "tickSize": -4, "labelPadding": 17, "titlePadding": 6}}, "y": {"datum": 0.946, "scale": {"domain": [-0.03, 1.109]}, "axis": null}}},
{"data": {"values": [{"p": 4}]}, "mark": {"type": "text", "text": "△ r = \u00a00.93", "align": "left", "baseline": "middle", "fontSize": 12, "color": "#0000ff"}, "encoding": {"x": {"datum": 8.09, "type": "quantitative", "scale": {"domain": [8, 15]}, "axis": {"values": [9,10,11,12,13,14], "format": "d", "title": "Local Solar Time", "tickSize": -4, "labelPadding": 17, "titlePadding": 6}}, "y": {"datum": 0.848, "scale": {"domain": [-0.03, 1.109]}, "axis": null}}},
{"data": {"values": [{"p": 4}]}, "mark": {"type": "text", "text": "□ r = \u00a00.92", "align": "left", "baseline": "middle", "fontSize": 12, "color": "#ff8c00"}, "encoding": {"x": {"datum": 8.09, "type": "quantitative", "scale": {"domain": [8, 15]}, "axis": {"values": [9,10,11,12,13,14], "format": "d", "title": "Local Solar Time", "tickSize": -4, "labelPadding": 17, "titlePadding": 6}}, "y": {"datum": 0.759, "scale": {"domain": [-0.03, 1.109]}, "axis": null}}},
{"data": {"values": [{"p": 4}]}, "mark": {"type": "text", "text": "TROPOMI", "align": "right", "baseline": "middle", "fontSize": 12.5, "color": "#222"}, "encoding": {"x": {"datum": 14.91, "type": "quantitative", "scale": {"domain": [8, 15]}, "axis": {"values": [9,10,11,12,13,14], "format": "d", "title": "Local Solar Time", "tickSize": -4, "labelPadding": 17, "titlePadding": 6}}, "y": {"datum": 1.051, "scale": {"domain": [-0.03, 1.109]}, "axis": null}}},
{"data": {"values": [{"p": 4}]}, "mark": {"type": "text", "text": "× r = \u00a00.87", "align": "right", "baseline": "middle", "fontSize": 12, "color": "#ff1493"}, "encoding": {"x": {"datum": 14.955, "type": "quantitative", "scale": {"domain": [8, 15]}, "axis": {"values": [9,10,11,12,13,14], "format": "d", "title": "Local Solar Time", "tickSize": -4, "labelPadding": 17, "titlePadding": 6}}, "y": {"datum": 0.946, "scale": {"domain": [-0.03, 1.109]}, "axis": null}}}
]
}
],
"config": {
 "font": "Liberation Sans",
 "view": {"stroke": "#222"},
 "axis": {"grid": false, "labelFontSize": 12, "labelColor": "#333", "titleFontSize": 12.5, "titleFontWeight": "normal", "titleColor": "#333", "domainColor": "#222", "tickColor": "#222", "labelFlush": false, "labelOverlap": false},
 "title": {"fontSize": 15, "fontWeight": "normal", "color": "#333", "anchor": "middle", "frame": "group", "offset": -16, "baseline": "alphabetic"},
 "area": {"opacity": 1, "fill": {"gradient": "linear", "x1": 0, "y1": 1, "x2": 1, "y2": 0, "stops": [
  {"offset":0,"color":"#999999"},{"offset":0.008,"color":"#999999"},{"offset":0.008,"color":"transparent"},{"offset":0.0333,"color":"transparent"},
  {"offset":0.0333,"color":"#999999"},{"offset":0.0413,"color":"#999999"},{"offset":0.0413,"color":"transparent"},{"offset":0.0667,"color":"transparent"},
  {"offset":0.0667,"color":"#999999"},{"offset":0.0747,"color":"#999999"},{"offset":0.0747,"color":"transparent"},{"offset":0.1,"color":"transparent"},
  {"offset":0.1,"color":"#999999"},{"offset":0.108,"color":"#999999"},{"offset":0.108,"color":"transparent"},{"offset":0.1333,"color":"transparent"},
  {"offset":0.1333,"color":"#999999"},{"offset":0.1413,"color":"#999999"},{"offset":0.1413,"color":"transparent"},{"offset":0.1667,"color":"transparent"},
  {"offset":0.1667,"color":"#999999"},{"offset":0.1747,"color":"#999999"},{"offset":0.1747,"color":"transparent"},{"offset":0.2,"color":"transparent"},
  {"offset":0.2,"color":"#999999"},{"offset":0.208,"color":"#999999"},{"offset":0.208,"color":"transparent"},{"offset":0.2333,"color":"transparent"},
  {"offset":0.2333,"color":"#999999"},{"offset":0.2413,"color":"#999999"},{"offset":0.2413,"color":"transparent"},{"offset":0.2667,"color":"transparent"},
  {"offset":0.2667,"color":"#999999"},{"offset":0.2747,"color":"#999999"},{"offset":0.2747,"color":"transparent"},{"offset":0.3,"color":"transparent"},
  {"offset":0.3,"color":"#999999"},{"offset":0.308,"color":"#999999"},{"offset":0.308,"color":"transparent"},{"offset":0.3333,"color":"transparent"},
  {"offset":0.3333,"color":"#999999"},{"offset":0.3413,"color":"#999999"},{"offset":0.3413,"color":"transparent"},{"offset":0.3667,"color":"transparent"},
  {"offset":0.3667,"color":"#999999"},{"offset":0.3747,"color":"#999999"},{"offset":0.3747,"color":"transparent"},{"offset":0.4,"color":"transparent"},
  {"offset":0.4,"color":"#999999"},{"offset":0.408,"color":"#999999"},{"offset":0.408,"color":"transparent"},{"offset":0.4333,"color":"transparent"},
  {"offset":0.4333,"color":"#999999"},{"offset":0.4413,"color":"#999999"},{"offset":0.4413,"color":"transparent"},{"offset":0.4667,"color":"transparent"},
  {"offset":0.4667,"color":"#999999"},{"offset":0.4747,"color":"#999999"},{"offset":0.4747,"color":"transparent"},{"offset":0.5,"color":"transparent"},
  {"offset":0.5,"color":"#999999"},{"offset":0.508,"color":"#999999"},{"offset":0.508,"color":"transparent"},{"offset":0.5333,"color":"transparent"},
  {"offset":0.5333,"color":"#999999"},{"offset":0.5413,"color":"#999999"},{"offset":0.5413,"color":"transparent"},{"offset":0.5667,"color":"transparent"},
  {"offset":0.5667,"color":"#999999"},{"offset":0.5747,"color":"#999999"},{"offset":0.5747,"color":"transparent"},{"offset":0.6,"color":"transparent"},
  {"offset":0.6,"color":"#999999"},{"offset":0.608,"color":"#999999"},{"offset":0.608,"color":"transparent"},{"offset":0.6333,"color":"transparent"},
  {"offset":0.6333,"color":"#999999"},{"offset":0.6413,"color":"#999999"},{"offset":0.6413,"color":"transparent"},{"offset":0.6667,"color":"transparent"},
  {"offset":0.6667,"color":"#999999"},{"offset":0.6747,"color":"#999999"},{"offset":0.6747,"color":"transparent"},{"offset":0.7,"color":"transparent"},
  {"offset":0.7,"color":"#999999"},{"offset":0.708,"color":"#999999"},{"offset":0.708,"color":"transparent"},{"offset":0.7333,"color":"transparent"},
  {"offset":0.7333,"color":"#999999"},{"offset":0.7413,"color":"#999999"},{"offset":0.7413,"color":"transparent"},{"offset":0.7667,"color":"transparent"},
  {"offset":0.7667,"color":"#999999"},{"offset":0.7747,"color":"#999999"},{"offset":0.7747,"color":"transparent"},{"offset":0.8,"color":"transparent"},
  {"offset":0.8,"color":"#999999"},{"offset":0.808,"color":"#999999"},{"offset":0.808,"color":"transparent"},{"offset":0.8333,"color":"transparent"},
  {"offset":0.8333,"color":"#999999"},{"offset":0.8413,"color":"#999999"},{"offset":0.8413,"color":"transparent"},{"offset":0.8667,"color":"transparent"},
  {"offset":0.8667,"color":"#999999"},{"offset":0.8747,"color":"#999999"},{"offset":0.8747,"color":"transparent"},{"offset":0.9,"color":"transparent"},
  {"offset":0.9,"color":"#999999"},{"offset":0.908,"color":"#999999"},{"offset":0.908,"color":"transparent"},{"offset":0.9333,"color":"transparent"},
  {"offset":0.9333,"color":"#999999"},{"offset":0.9413,"color":"#999999"},{"offset":0.9413,"color":"transparent"},{"offset":0.9667,"color":"transparent"},
  {"offset":0.9667,"color":"#999999"},{"offset":0.9747,"color":"#999999"},{"offset":0.9747,"color":"transparent"},{"offset":1,"color":"transparent"}
 ]}}
}
}
